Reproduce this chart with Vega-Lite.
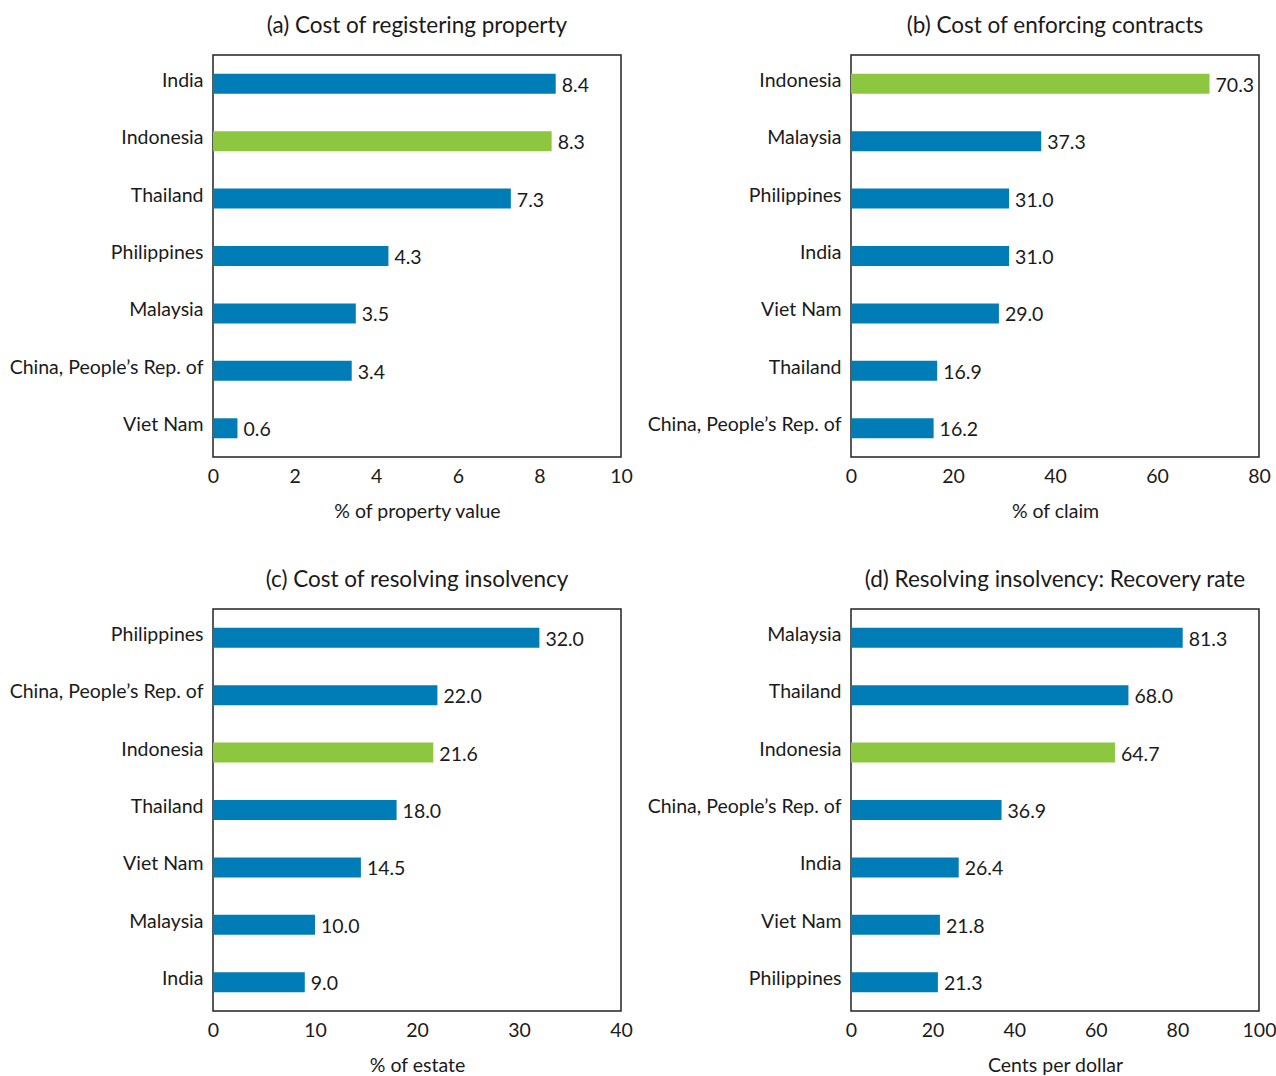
{
  "$schema": "https://vega.github.io/schema/vega-lite/v6.json",
  "padding": {"left": 8, "top": 13, "right": 0, "bottom": 0},
  "datasets": {
    "rows": [
      {"panel": "a", "country": "India", "value": 8.4},
      {"panel": "a", "country": "Indonesia", "value": 8.3},
      {"panel": "a", "country": "Thailand", "value": 7.3},
      {"panel": "a", "country": "Philippines", "value": 4.3},
      {"panel": "a", "country": "Malaysia", "value": 3.5},
      {"panel": "a", "country": "China, People’s Rep. of", "value": 3.4},
      {"panel": "a", "country": "Viet Nam", "value": 0.6},
      {"panel": "b", "country": "Indonesia", "value": 70.3},
      {"panel": "b", "country": "Malaysia", "value": 37.3},
      {"panel": "b", "country": "Philippines", "value": 31.0},
      {"panel": "b", "country": "India", "value": 31.0},
      {"panel": "b", "country": "Viet Nam", "value": 29.0},
      {"panel": "b", "country": "Thailand", "value": 16.9},
      {"panel": "b", "country": "China, People’s Rep. of", "value": 16.2},
      {"panel": "c", "country": "Philippines", "value": 32.0},
      {"panel": "c", "country": "China, People’s Rep. of", "value": 22.0},
      {"panel": "c", "country": "Indonesia", "value": 21.6},
      {"panel": "c", "country": "Thailand", "value": 18.0},
      {"panel": "c", "country": "Viet Nam", "value": 14.5},
      {"panel": "c", "country": "Malaysia", "value": 10.0},
      {"panel": "c", "country": "India", "value": 9.0},
      {"panel": "d", "country": "Malaysia", "value": 81.3},
      {"panel": "d", "country": "Thailand", "value": 68.0},
      {"panel": "d", "country": "Indonesia", "value": 64.7},
      {"panel": "d", "country": "China, People’s Rep. of", "value": 36.9},
      {"panel": "d", "country": "India", "value": 26.4},
      {"panel": "d", "country": "Viet Nam", "value": 21.8},
      {"panel": "d", "country": "Philippines", "value": 21.3}
    ]
  },
  "data": {"name": "rows"},
  "columns": 2,
  "spacing": {"row": 152, "column": 230},
  "bounds": "flush",
  "concat": [
    {
      "title": "(a) Cost of registering property",
      "width": 408, "height": 402,
      "transform": [{"filter": "datum.panel === 'a'"}],
      "encoding": {
        "y": {"field": "country", "type": "nominal", "sort": ["India", "Indonesia", "Thailand", "Philippines", "Malaysia", "China, People’s Rep. of", "Viet Nam"], "axis": {"title": null}},
        "x": {"field": "value", "type": "quantitative", "scale": {"domain": [0, 10]}, "axis": {"title": "% of property value", "values": [0, 2, 4, 6, 8, 10]}}
      },
      "layer": [
        {"mark": {"type": "bar", "height": 20}, "encoding": {"color": {"condition": {"test": "datum.country === 'Indonesia'", "value": "#8DC63F"}, "value": "#007DB7"}}},
        {"mark": {"type": "text", "align": "left", "baseline": "middle", "dx": 6, "dy": 2, "fontSize": 19.5, "font": "Lato", "color": "#1a1a1a"}, "encoding": {"text": {"field": "value", "type": "quantitative", "format": ".1f"}}}
      ]
    },
    {
      "title": "(b) Cost of enforcing contracts",
      "width": 408, "height": 402,
      "transform": [{"filter": "datum.panel === 'b'"}],
      "encoding": {
        "y": {"field": "country", "type": "nominal", "sort": ["Indonesia", "Malaysia", "Philippines", "India", "Viet Nam", "Thailand", "China, People’s Rep. of"], "axis": {"title": null}},
        "x": {"field": "value", "type": "quantitative", "scale": {"domain": [0, 80]}, "axis": {"title": "% of claim", "values": [0, 20, 40, 60, 80]}}
      },
      "layer": [
        {"mark": {"type": "bar", "height": 20}, "encoding": {"color": {"condition": {"test": "datum.country === 'Indonesia'", "value": "#8DC63F"}, "value": "#007DB7"}}},
        {"mark": {"type": "text", "align": "left", "baseline": "middle", "dx": 6, "dy": 2, "fontSize": 19.5, "font": "Lato", "color": "#1a1a1a"}, "encoding": {"text": {"field": "value", "type": "quantitative", "format": ".1f"}}}
      ]
    },
    {
      "title": "(c) Cost of resolving insolvency",
      "width": 408, "height": 402,
      "transform": [{"filter": "datum.panel === 'c'"}],
      "encoding": {
        "y": {"field": "country", "type": "nominal", "sort": ["Philippines", "China, People’s Rep. of", "Indonesia", "Thailand", "Viet Nam", "Malaysia", "India"], "axis": {"title": null}},
        "x": {"field": "value", "type": "quantitative", "scale": {"domain": [0, 40]}, "axis": {"title": "% of estate", "values": [0, 10, 20, 30, 40]}}
      },
      "layer": [
        {"mark": {"type": "bar", "height": 20}, "encoding": {"color": {"condition": {"test": "datum.country === 'Indonesia'", "value": "#8DC63F"}, "value": "#007DB7"}}},
        {"mark": {"type": "text", "align": "left", "baseline": "middle", "dx": 6, "dy": 2, "fontSize": 19.5, "font": "Lato", "color": "#1a1a1a"}, "encoding": {"text": {"field": "value", "type": "quantitative", "format": ".1f"}}}
      ]
    },
    {
      "title": "(d) Resolving insolvency: Recovery rate",
      "width": 408, "height": 402,
      "transform": [{"filter": "datum.panel === 'd'"}],
      "encoding": {
        "y": {"field": "country", "type": "nominal", "sort": ["Malaysia", "Thailand", "Indonesia", "China, People’s Rep. of", "India", "Viet Nam", "Philippines"], "axis": {"title": null}},
        "x": {"field": "value", "type": "quantitative", "scale": {"domain": [0, 100]}, "axis": {"title": "Cents per dollar", "values": [0, 20, 40, 60, 80, 100]}}
      },
      "layer": [
        {"mark": {"type": "bar", "height": 20}, "encoding": {"color": {"condition": {"test": "datum.country === 'Indonesia'", "value": "#8DC63F"}, "value": "#007DB7"}}},
        {"mark": {"type": "text", "align": "left", "baseline": "middle", "dx": 6, "dy": 2, "fontSize": 19.5, "font": "Lato", "color": "#1a1a1a"}, "encoding": {"text": {"field": "value", "type": "quantitative", "format": ".1f"}}}
      ]
    }
  ],
  "config": {
    "font": "Lato",
    "view": {"stroke": "#222222", "strokeWidth": 1.5},
    "title": {"fontSize": 22.5, "fontWeight": "normal", "color": "#1a1a1a", "offset": 18, "anchor": "middle", "frame": "group"},
    "axis": {"grid": false, "ticks": false, "domain": false, "labelFontSize": 19.5, "labelColor": "#1a1a1a", "titleFontSize": 19.5, "titleFontWeight": "normal", "titleColor": "#1a1a1a"},
    "axisX": {"labelPadding": 10, "titlePadding": 17, "labelFlush": false},
    "axisY": {"labelPadding": 10, "labelOffset": -3, "labelLimit": 300}
  }
}
